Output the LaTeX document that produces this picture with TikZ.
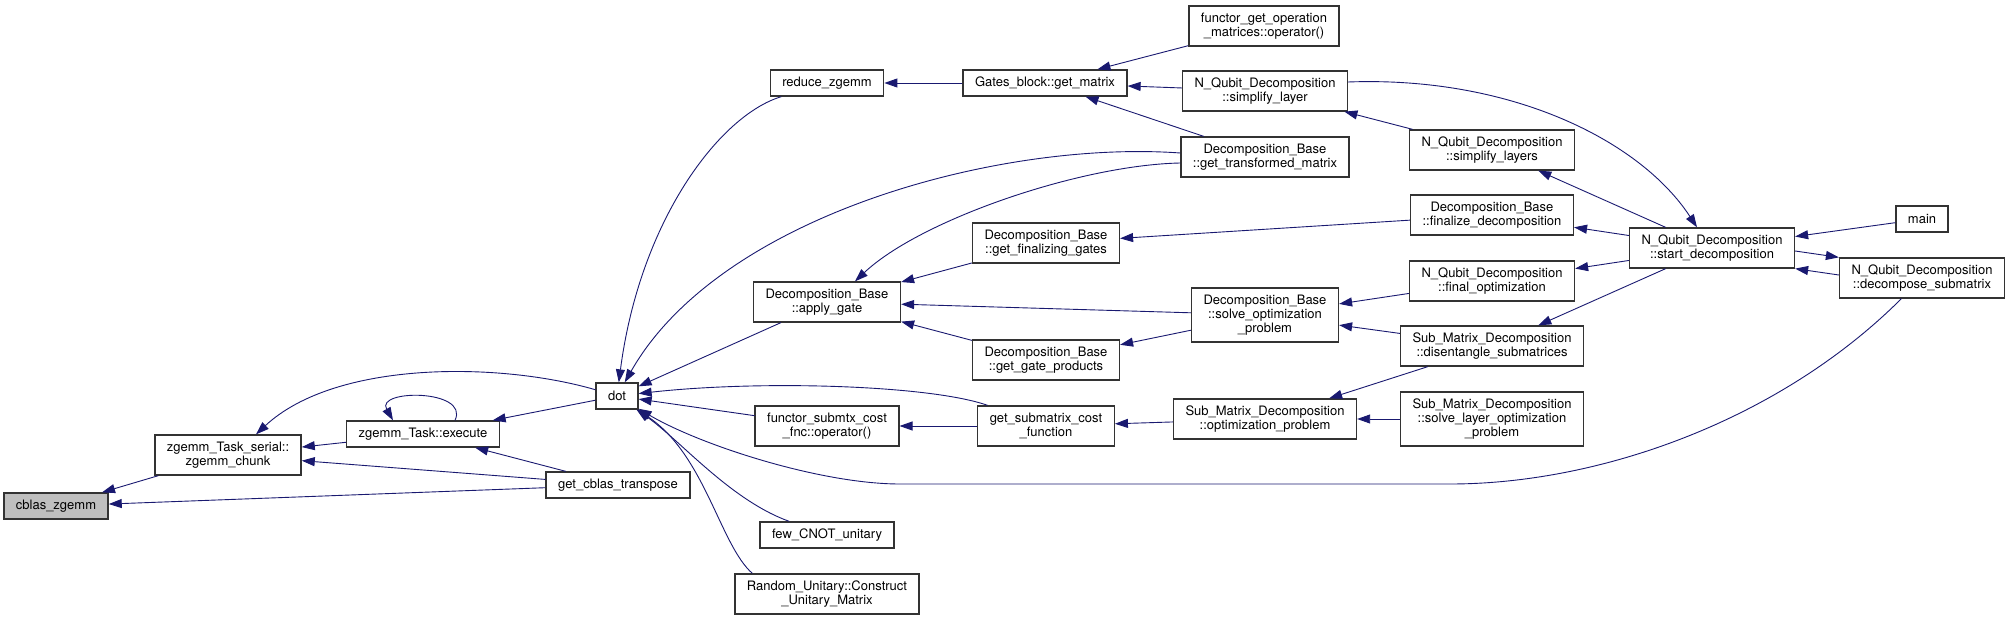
\documentclass[tikz,border=0pt]{standalone}
\usepackage{fontspec}
\setmainfont{TeX Gyre Heros}
\usetikzlibrary{arrows.meta}
\definecolor{edgeblue}{HTML}{191970}
\definecolor{rootgray}{HTML}{BFBFBF}
\definecolor{boxline}{HTML}{333333}

\begin{document}
\begin{tikzpicture}[x=1pt, y=-1pt,
    fn/.style={draw=boxline, line width=1.3pt, fill=white, align=center,
               inner xsep=12pt, inner ysep=3pt, minimum height=26pt,
               font=\fontsize{13}{14}\selectfont},
    fntwo/.style={fn, minimum height=40pt},
    fnthree/.style={fn, minimum height=54pt},
    call/.style={draw=edgeblue, line width=0.9pt,
                 -{Triangle[length=13pt, width=9pt]}}]
    \useasboundingbox (0,0) rectangle (2009,620);

    % Funcion raiz y primeros llamadores
    \node[fn, fill=rootgray] (cblas) at (56,506) {cblas\_zgemm};
    \node[fntwo] (chunk) at (228,455) {zgemm\_Task\_serial::\\zgemm\_chunk};
    \node[fn] (execute) at (423,434) {zgemm\_Task::execute};
    \node[fn] (gettrans) at (618,485) {get\_cblas\_transpose};
    \node[fn] (dot) at (617,396) {dot};

    % Columna de llamadores de dot
    \node[fn] (reduce) at (827,83) {reduce\_zgemm};
    \node[fntwo] (applygate) at (827,302) {Decomposition\_Base\\::apply\_gate};
    \node[fntwo] (submtxop) at (827,426) {functor\_submtx\_cost\\\_fnc::operator()};
    \node[fn] (fewcnot) at (827,535) {few\_CNOT\_unitary};
    \node[fntwo] (randunit) at (827,594) {Random\_Unitary::Construct\\\_Unitary\_Matrix};

    \node[fn] (getmatrix) at (1045,83) {Gates\_block::get\_matrix};
    \node[fntwo] (finalgates) at (1046,243) {Decomposition\_Base\\::get\_finalizing\_gates};
    \node[fntwo] (gateprod) at (1046,360) {Decomposition\_Base\\::get\_gate\_products};
    \node[fntwo] (submcost) at (1046,426) {get\_submatrix\_cost\\\_function};

    \node[fntwo] (funcop) at (1264,26) {functor\_get\_operation\\\_matrices::operator()};
    \node[fntwo] (simplayer) at (1265,91) {N\_Qubit\_Decomposition\\::simplify\_layer};
    \node[fntwo] (transformed) at (1265,157) {Decomposition\_Base\\::get\_transformed\_matrix};
    \node[fnthree] (solveopt) at (1265,315) {Decomposition\_Base\\::solve\_optimization\\\_problem};
    \node[fntwo] (optprob) at (1265,419) {Sub\_Matrix\_Decomposition\\::optimization\_problem};

    \node[fntwo] (simplayers) at (1492,150) {N\_Qubit\_Decomposition\\::simplify\_layers};
    \node[fntwo] (finalize) at (1492,215) {Decomposition\_Base\\::finalize\_decomposition};
    \node[fntwo] (finalopt) at (1492,281) {N\_Qubit\_Decomposition\\::final\_optimization};
    \node[fntwo] (disent) at (1492,346) {Sub\_Matrix\_Decomposition\\::disentangle\_submatrices};
    \node[fnthree] (solvelayer) at (1492,419) {Sub\_Matrix\_Decomposition\\::solve\_layer\_optimization\\\_problem};

    \node[fntwo] (startdec) at (1712,248) {N\_Qubit\_Decomposition\\::start\_decomposition};
    \node[fn] (main) at (1922,219) {main};
    \node[fntwo] (decomp) at (1922,278) {N\_Qubit\_Decomposition\\::decompose\_submatrix};

    % Llamadas hacia cblas_zgemm
    \draw[call] (chunk) -- (cblas);
    \draw[call] (gettrans) -- (cblas);
    \draw[call] (execute) -- (chunk);
    \draw[call] (gettrans) -- (chunk);
    \draw[call] (dot) .. controls (500,362) and (336,360) .. ([xshift=28pt]chunk.north);
    \draw[call] ([xshift=32pt]execute.north) .. controls (470,389) and (375,389)
          .. ([xshift=-30pt]execute.north);
    \draw[call] (dot) -- (execute);
    \draw[call] (gettrans) -- (execute);

    % Llamadas hacia dot
    \draw[call] (reduce) .. controls (720,115) and (640,220) .. (dot);
    \draw[call] ([yshift=4pt]transformed.west) .. controls (1000,140) and (720,215) .. (dot);
    \draw[call] (applygate) -- (dot);
    \draw[call] (submtxop) -- (dot);
    \draw[call] (submcost) .. controls (930,385) and (760,380) .. (dot);
    \draw[call] (fewcnot) .. controls (730,500) and (680,440) .. (dot);
    \draw[call] ([xshift=18pt]randunit.north west) .. controls (720,545) and (705,455) .. (dot);
    \draw[call] (decomp) .. controls (1780,420) and (1600,484) .. (1450,484)
          -- (900,484) .. controls (820,484) and (700,445) .. (dot);

    % Llamadas en la zona media
    \draw[call] (getmatrix) -- (reduce);
    \draw[call] (funcop) -- (getmatrix);
    \draw[call] (simplayer) -- (getmatrix);
    \draw[call] (transformed) -- (getmatrix);
    \draw[call] ([yshift=-6pt]transformed.west) .. controls (1080,165) and (920,220)
          .. ([xshift=28pt]applygate.north);
    \draw[call] (finalgates) -- (applygate);
    \draw[call] (solveopt) -- (applygate);
    \draw[call] (gateprod) -- (applygate);
    \draw[call] (solveopt) -- (gateprod);
    \draw[call] (submcost) -- (submtxop);
    \draw[call] (optprob) -- (submcost);

    % Llamadas en la zona derecha
    \draw[call] (finalize) -- (finalgates);
    \draw[call] (finalopt) -- (solveopt);
    \draw[call] (disent) -- (solveopt);
    \draw[call] (disent) -- (optprob);
    \draw[call] (solvelayer) -- (optprob);
    \draw[call] (simplayers) -- (simplayer);
    \draw[call] ([yshift=9pt]simplayer.east) .. controls (1510,76) and (1640,140)
          .. ([xshift=-15pt]startdec.north);
    \draw[call] (startdec) -- (simplayers);
    \draw[call] (startdec) -- (finalize);
    \draw[call] (startdec) -- (finalopt);
    \draw[call] (startdec) -- (disent);
    \draw[call] (main) -- (startdec);
    \draw[call] ([yshift=-3pt]startdec.east) -- (decomp.north west);
    \draw[call] ([yshift=3pt]decomp.west) -- (startdec.south east);
\end{tikzpicture}
\end{document}
